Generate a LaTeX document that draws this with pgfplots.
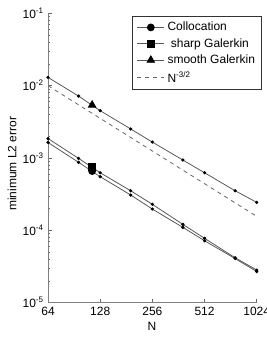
\documentclass[border=0pt]{standalone}
\usepackage{fontspec}
\setmainfont{Liberation Sans}
\usepackage{pgfplots}
\pgfplotsset{compat=1.18}
\begin{document}
\fontsize{9pt}{10.5pt}\selectfont
\begin{tikzpicture}
\useasboundingbox (-36pt,-28.7pt) rectangle (163.5pt,227pt);
\begin{axis}[
  scale only axis,
  width=156.5pt, height=217pt,
  xmode=log, log basis x=2, ymode=log,
  xmin=64, xmax=1024, ymin=1e-5, ymax=1e-1,
  axis lines=left, axis line style={-, black!50, line width=0.6pt},
  tick align=inside, tick style={black!60, line width=0.4pt},
  major tick length=3pt, minor tick length=1.8pt,
  xminorticks=false,
  xtick={64,128,256,512,1024}, xticklabels={64,128,256,512,1024},
  ytick={1e-5,1e-4,1e-3,1e-2,1e-1},
  yticklabels={10\textsuperscript{-5},10\textsuperscript{-4},10\textsuperscript{-3},10\textsuperscript{-2},10\textsuperscript{-1}},
  ticklabel style={font=\fontsize{9pt}{10.5pt}\selectfont},
  xlabel={N}, ylabel={minimum L2 error},
  every axis x label/.style={at={(axis description cs:0.498,-0.083)}, anchor=center},
  every axis y label/.style={at={(axis description cs:-0.1725,0.48)}, rotate=90, anchor=center},
  legend style={at={(rel axis cs:1.025,0.99)}, anchor=north east, draw=black!80, line width=0.5pt,
    font=\fontsize{9pt}{10.5pt}\selectfont, row sep=0.4pt, inner xsep=3pt, inner ysep=2.2pt},
  legend image code/.code={
    \draw[mark repeat=2,mark phase=2] plot coordinates {(0cm,0cm) (0.36cm,0cm) (0.72cm,0cm)};},
  legend cell align=left,
  clip=false,
]
% lines with small dots
\addplot[black!65, line width=0.6pt, mark=*, mark size=0.9pt, mark options={black, fill=black}, forget plot] coordinates {
(64,1.64e-3) (96,8.73e-4) (128,5.52e-4) (192,3.08e-4) (256,1.97e-4) (384,1.10e-4) (512,7.19e-5) (768,4.08e-5) (1024,2.70e-5)};
\addplot[black!65, line width=0.6pt, mark=*, mark size=0.9pt, mark options={black, fill=black}, forget plot] coordinates {
(64,1.86e-3) (96,9.9e-4) (128,6.26e-4) (192,3.53e-4) (256,2.29e-4) (384,1.21e-4) (512,7.77e-5) (768,4.19e-5) (1024,2.83e-5)};
\addplot[black!65, line width=0.6pt, mark=*, mark size=0.9pt, mark options={black, fill=black}, forget plot] coordinates {
(64,1.30e-2) (96,7.19e-3) (128,4.51e-3) (192,2.52e-3) (256,1.66e-3) (384,9.38e-4) (512,6.26e-4) (768,3.53e-4) (1024,2.44e-4)};
% big markers (legend entries)
\addplot[black!65, line width=0.6pt, mark=*, mark size=2.6pt, mark options={black, fill=black, solid}] coordinates {(115,6.6e-4)};
\addlegendentry{Collocation}
\addplot[black!65, line width=0.6pt, mark=square*, mark size=2.5pt, mark options={black, fill=black, solid}] coordinates {(115,7.5e-4)};
\addlegendentry{\ sharp Galerkin}
\addplot[black!65, line width=0.6pt, mark=triangle*, mark size=3.2pt, mark options={black, fill=black, solid}] coordinates {(115,5.4e-3)};
\addlegendentry{smooth Galerkin}
\addplot[black!60, line width=0.6pt, dash pattern=on 3pt off 3pt] coordinates {
(64,1.0e-2) (128,3.5355e-3) (256,1.25e-3) (512,4.4194e-4) (1024,1.5625e-4)};
\addlegendentry{N\textsuperscript{-3/2}}
\end{axis}
\end{tikzpicture}
\end{document}
